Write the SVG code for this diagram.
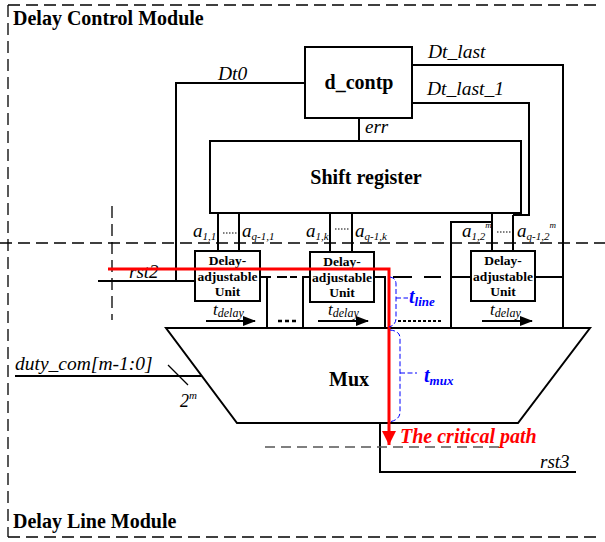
<svg xmlns="http://www.w3.org/2000/svg" width="605" height="542" viewBox="0 0 605 542">
<style>
.ln{fill:none;stroke:#000;stroke-width:2}
.box{fill:#fff;stroke:#000;stroke-width:2}
.dash{fill:none;stroke:#000;stroke-width:1.3;stroke-dasharray:12,6}
.blue{fill:none;stroke:#0000ff;stroke-width:1;stroke-dasharray:5,2.5}
.dots{fill:none;stroke:#000;stroke-width:1;stroke-dasharray:1.5,1.5}
text{font-family:'Liberation Serif','Times New Roman',serif}
</style>
<defs>
<marker id="ah" markerWidth="13" markerHeight="10" refX="12" refY="5" orient="auto" markerUnits="userSpaceOnUse">
<path d="M0,0 L13,5 L0,10 Z" fill="#000"/>
</marker>
<marker id="rh" markerWidth="14" markerHeight="16" refX="14" refY="7" orient="auto" markerUnits="userSpaceOnUse">
<path d="M0,0 L14,7 L0,14 Z" fill="#ff0000"/>
</marker>
</defs>
<rect width="605" height="542" fill="#fff"/>

<g id="modules">
<path class="dash" d="M8,5 H600"/>
<path class="dash" d="M8,5 V537"/>
<path class="dash" d="M8,537 H600"/>
<path class="dash" d="M0,243 H605"/>
<path class="dash" d="M112,206 V320"/>
<text style="font-weight:bold;font-size:20px" x="13" y="25">Delay Control Module</text>
<text style="font-weight:bold;font-size:20px" x="13" y="528">Delay Line Module</text>
</g>

<g id="connectors">
<path class="ln" d="M305,83 H176 V281"/>
<path class="ln" d="M98,281 H195"/>
<path class="ln" d="M412,65 H563 V328"/>
<path class="ln" d="M412,103 H529 V215 H513"/>
<path class="ln" d="M359,118 V141"/>
<path class="ln" d="M218,213 V251 M239,213 V251"/>
<path class="ln" d="M330,213 V252 M352,213 V252"/>
<path class="ln" d="M492,213 V251 M513,215 V251"/>
<path class="ln" d="M451,328 V222 H492"/>
<path class="ln" d="M451,277 H471"/>
<path class="ln" d="M535,277 H563"/>
<path class="ln" d="M260,277 H271 M267,277 V328"/>
<path class="ln" d="M277,277 H287 M290,277 H297"/>
<path class="ln" d="M303,328 V277 H310"/>
<path class="ln" d="M374,277 H386 M385,277 V328"/>
<path class="ln" d="M393,277 H412 M424,277 H441"/>
<path class="dots" d="M223,233 H237"/>
<path class="dots" d="M335,229 H349"/>
<path class="dots" d="M497,232 H511"/>
<path fill="none" stroke="#000" stroke-width="2.5" stroke-dasharray="4,3" d="M278,321 H297"/>
<path fill="none" stroke="#000" stroke-width="2" stroke-dasharray="3,2" d="M398,321 H441"/>
<path class="ln" stroke-width="2.5" d="M206,321 H255" marker-end="url(#ah)"/>
<path class="ln" stroke-width="2.5" d="M318,321 H368" marker-end="url(#ah)"/>
<path class="ln" stroke-width="2.5" d="M482,321 H532" marker-end="url(#ah)"/>
<path class="ln" d="M15,376 H202"/>
<path fill="none" stroke="#000" stroke-width="1.2" d="M168,365 L188,385"/>
<path class="ln" d="M380,423 V472 H576"/>
<path fill="none" stroke="#555" stroke-width="1.3" stroke-dasharray="10,6" d="M265,447 H500"/>
</g>

<g id="d_contp">
<rect class="box" x="305" y="47" width="107" height="71"/>
<text style="font-weight:bold;font-size:20px" x="359" y="89" text-anchor="middle">d_contp</text>
</g>

<g id="shift_register">
<rect class="box" x="210" y="141" width="311" height="72"/>
<text style="font-weight:bold;font-size:20px" x="366" y="184" text-anchor="middle">Shift register</text>
</g>

<g id="unit1" style="font-weight:bold;font-size:13.5px" text-anchor="middle">
<rect class="box" x="195" y="251" width="65" height="50"/>
<text x="227.5" y="265">Delay-</text>
<text x="227.5" y="281">adjustable</text>
<text x="227.5" y="296">Unit</text>
</g>
<g id="unit2" style="font-weight:bold;font-size:13.5px" text-anchor="middle">
<rect class="box" x="310" y="252" width="64" height="50"/>
<text x="342" y="266">Delay-</text>
<text x="342" y="282">adjustable</text>
<text x="342" y="297">Unit</text>
</g>
<g id="unit3" style="font-weight:bold;font-size:13.5px" text-anchor="middle">
<rect class="box" x="471" y="251" width="64" height="50"/>
<text x="503" y="265">Delay-</text>
<text x="503" y="281">adjustable</text>
<text x="503" y="296">Unit</text>
</g>

<g id="mux">
<path class="box" d="M166,328 H590 L518,423 H237 Z"/>
<text style="font-weight:bold;font-size:20px" x="349" y="386" text-anchor="middle">Mux</text>
</g>

<g id="labels" style="font-style:italic;font-size:19.5px">
<text x="218" y="80">Dt0</text>
<text x="428" y="58">Dt_last</text>
<text x="427" y="95">Dt_last_1</text>
<text x="365" y="133" style="font-size:19px">err</text>
<text x="129" y="278" style="font-size:19px">rst2</text>
<text x="540" y="468" style="font-size:19px">rst3</text>
<text x="15" y="370">duty_com[m-1:0]</text>
<text x="180" y="407" style="font-size:18px">2<tspan style="font-size:11px" dy="-8">m</tspan></text>

<text x="193" y="237" style="font-size:19px">a<tspan style="font-size:11px" dy="3">1,1</tspan></text>
<text x="242" y="237" style="font-size:19px">a<tspan style="font-size:11px" dy="3">q-1,1</tspan></text>
<text x="306" y="237" style="font-size:19px">a<tspan style="font-size:11px" dy="3">1,k</tspan></text>
<text x="355" y="237" style="font-size:19px">a<tspan style="font-size:11px" dy="3">q-1,k</tspan></text>
<text x="462" y="237" style="font-size:19px">a<tspan style="font-size:11px" dy="3">1,2</tspan><tspan style="font-size:9px" dy="-12">m</tspan></text>
<text x="517" y="237" style="font-size:19px">a<tspan style="font-size:11px" dy="3">q-1,2</tspan><tspan style="font-size:9px" dy="-12">m</tspan></text>

<text x="213" y="315" style="font-size:17px">t<tspan style="font-size:12px" dy="2">delay</tspan></text>
<text x="328" y="315" style="font-size:17px">t<tspan style="font-size:12px" dy="2">delay</tspan></text>
<text x="490" y="315" style="font-size:17px">t<tspan style="font-size:12px" dy="2">delay</tspan></text>
</g>

<g id="critical_path">
<path fill="none" stroke="#ff0000" stroke-width="3" d="M108,269 H389 V445" marker-end="url(#rh)"/>
<text style="font-weight:bold;font-style:italic;font-size:20px;fill:#ff0000" x="400" y="443">The critical path</text>
<path class="blue" d="M390,277 Q396,278 396,284 V318 Q396,325 389,327 M396,298 H408"/>
<text style="font-weight:bold;font-style:italic;font-size:20px;fill:#0000ff" x="409" y="303">t<tspan style="font-size:13px" dy="3">line</tspan></text>
<path class="blue" d="M390,330 Q400,331 400,338 V412 Q400,420 389,422 M400,373 H417"/>
<text style="font-weight:bold;font-style:italic;font-size:20px;fill:#0000ff" x="424" y="382">t<tspan style="font-size:13px" dy="3">mux</tspan></text>
</g>
</svg>
